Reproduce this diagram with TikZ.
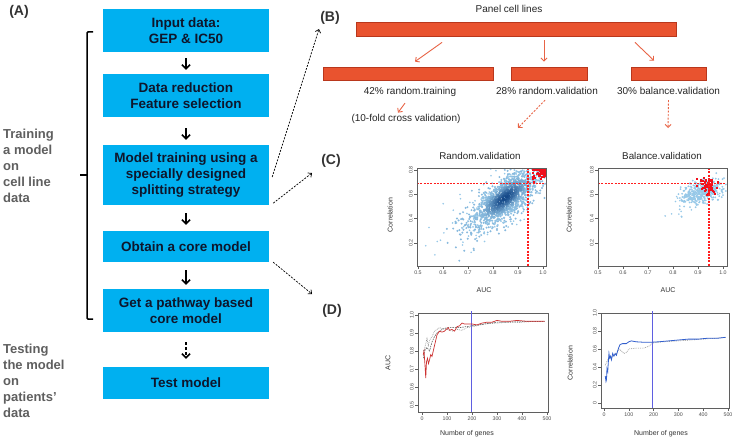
\documentclass[tikz,border=0pt]{standalone}
\usepackage{fontspec}
\setmainfont{Liberation Sans}
\usetikzlibrary{arrows.meta,positioning,calc}

\definecolor{boxblue}{RGB}{0,176,240}
\definecolor{boxtext}{RGB}{14,22,44}
\definecolor{sidegray}{RGB}{95,95,95}
\definecolor{barfill}{RGB}{233,83,47}
\definecolor{barline}{RGB}{185,55,28}
\definecolor{splitcol}{RGB}{232,100,70}
\definecolor{ptlight}{RGB}{150,200,232}
\definecolor{ptdark}{RGB}{12,64,130}
\definecolor{ptred}{RGB}{240,16,28}
\definecolor{axisgray}{RGB}{95,95,95}
\definecolor{cutred}{RGB}{255,30,30}
\definecolor{genesblue}{RGB}{95,95,225}
\definecolor{aucred}{RGB}{205,50,50}
\definecolor{corblue}{RGB}{50,95,205}

\begin{document}
\begin{tikzpicture}[x=1pt,y=-1pt,
  flowbox/.style={fill=boxblue,text=boxtext,font=\bfseries\fontsize{13.5}{16}\selectfont,
    align=center,minimum width=166pt,inner sep=0pt},
  sidetext/.style={text=sidegray,font=\bfseries\fontsize{13}{16}\selectfont,align=left,inner sep=0pt},
  panel/.style={font=\bfseries\fontsize{14}{16}\selectfont,text=black!80},
  flowarrow/.style={-{Straight Barb[length=4pt,width=8pt]},line width=1.6pt},
  linkarrow/.style={-{Straight Barb[length=3pt,width=5.5pt]},line width=0.7pt,dash pattern=on 2pt off 1.3pt},
  splitbar/.style={draw=barline,fill=barfill,line width=0.8pt,inner sep=0pt,minimum height=13pt},
  splitarrow/.style={-{Straight Barb[length=3pt,width=6pt]},draw=splitcol,line width=0.9pt},
  splitlabel/.style={font=\fontsize{10}{12}\selectfont,inner sep=0pt,text=black!85},
  plotframe/.style={draw=axisgray,line width=0.5pt},
  ticklbl/.style={font=\fontsize{5.3}{6}\selectfont,text=black!70,inner sep=1.2pt},
  axislbl/.style={font=\fontsize{7}{8}\selectfont,text=black!80},
  plottitle/.style={font=\fontsize{9.8}{11}\selectfont,text=black!85},
  cutline/.style={draw=cutred,line width=1.2pt,dash pattern=on 2pt off 1.3pt}]

\path[fill=white,use as bounding box] (0,0) rectangle (738,441);

% (A) flow of the work
\node[panel] (labA) at (19,12) {(A)};
\node[flowbox,minimum height=43pt] (input) at (186,30.5) {Input data:\\GEP \& IC50};
\node[flowbox,minimum height=43pt] (reduce) at (186,95.5) {Data reduction\\Feature selection};
\node[flowbox,minimum height=60pt] (train) at (186,175) {Model training using a\\specially designed\\splitting strategy};
\node[flowbox,minimum height=31pt] (core) at (186,246.5) {Obtain a core model};
\node[flowbox,minimum height=43pt] (pathway) at (186,310.5) {Get a pathway based\\core model};
\node[flowbox,minimum height=32pt] (test) at (186,383) {Test model};

\draw[flowarrow,shorten <=6pt,shorten >=4pt] (input) -- (reduce);
\draw[flowarrow,shorten <=11pt,shorten >=5pt] (reduce) -- (train);
\draw[flowarrow,shorten <=8pt,shorten >=6pt] (train) -- (core);
\draw[flowarrow,shorten <=8pt,shorten >=4pt] (core) -- (pathway);
\draw[flowarrow,shorten <=10pt,shorten >=8pt,dash pattern=on 3pt off 2pt] (pathway) -- (test);

% bracket and side texts
\draw[line width=1.5pt,rounded corners=1pt] (93,32) -- (87,32) -- (87,319) -- (93,319);
\draw[line width=1.5pt] (87,175) -- (80,175);
\node[sidetext,anchor=north west] (trainside) at (3,129) {Training\\a model\\on\\cell line\\data};
\node[sidetext,anchor=north west] (testside) at (3,344) {Testing\\the model\\on\\patients'\\data};

% links to the right panels
\coordinate (toB) at (319,29);
\coordinate (toC) at (312,173);
\coordinate (toD) at (312,294);
\draw[linkarrow] ($(train.east)+(3,2)$) -- (toB);
\draw[linkarrow] ($(train.south east)+(4,-2)$) -- (toC);
\draw[linkarrow] ($(core.south east)+(4,0)$) -- (toD);

% (B) splitting
\node[panel] (labB) at (330,18) {(B)};
\node[splitlabel] (paneltext) at (509,9) {Panel cell lines};
\node[splitbar,minimum width=320pt,minimum height=14pt] (allbar) at (516,29) {};
\node[splitbar,minimum width=170pt] (trainbar) at (408,73.5) {};
\node[splitbar,minimum width=76pt] (randbar) at (549,73.5) {};
\node[splitbar,minimum width=75pt] (balbar) at (668.5,73.5) {};
\node[splitlabel,below=7pt of trainbar,xshift=2pt] (trainlbl) {42\% random.training};
\node[splitlabel,below=7pt of randbar,xshift=-2pt] (randlbl) {28\% random.validation};
\node[splitlabel,below=7pt of balbar] (ballbl) {30\% balance.validation};
\node[splitlabel] (cvtext) at (406,118.5) {(10-fold cross validation)};

\draw[splitarrow] ($(allbar.south)+(-74,6)$) -- ($(trainbar.north)+(7,-5)$);
\draw[splitarrow] ($(allbar.south)+(28,4)$) -- ($(randbar.north)+(-5,-5)$);
\draw[splitarrow] ($(allbar.south)+(119,6)$) -- ($(balbar.north)+(-14.5,-6)$);
\draw[splitarrow] ($(trainlbl.south)+(-5,6)$) -- ($(cvtext.north)+(-8,-1)$);
\coordinate (toRand) at (518,128);
\coordinate (toBal) at (668,128);
\draw[splitarrow,dash pattern=on 2pt off 1.5pt] ($(randlbl.south)+(-2,5)$) -- (toRand);
\draw[splitarrow,dash pattern=on 2pt off 1.5pt] ($(ballbl.south)+(0,5)$) -- (toBal);

% (C) scatter plots
\node[panel] (labC) at (331,161) {(C)};
\node[plottitle] (randtitle) at (480,156) {Random.validation};
\node[plottitle] (baltitle) at (662,156) {Balance.validation};

\begin{scope}
  \clip (417,168) rectangle (546,266);
  \pgfmathsetseed{4211}
  \foreach \i in {1,...,140}{
    \pgfmathsetmacro{\ra}{rand+rand+rand}
    \pgfmathsetmacro{\rb}{rand+rand+rand}
    \pgfmathsetmacro{\px}{490+34*\ra*cos(39)+13*\rb*sin(39)}
    \pgfmathsetmacro{\py}{210-34*\ra*sin(39)+13*\rb*cos(39)}
    \fill[ptlight] (\px,\py) circle (0.9pt);
  }
  \foreach \i in {1,...,700}{
    \pgfmathsetmacro{\ra}{rand+rand+rand}
    \pgfmathsetmacro{\rb}{rand+rand+rand}
    \pgfmathsetmacro{\px}{503+26*\ra*cos(39)+10*\rb*sin(39)}
    \pgfmathsetmacro{\py}{200-26*\ra*sin(39)+10*\rb*cos(39)}
    \fill[ptlight!90!ptdark] (\px,\py) circle (1.1pt);
  }
  \foreach \i in {1,...,900}{
    \pgfmathsetmacro{\ra}{rand+rand+rand}
    \pgfmathsetmacro{\rb}{rand+rand+rand}
    \pgfmathsetmacro{\px}{505+16*\ra*cos(39)+6.5*\rb*sin(39)}
    \pgfmathsetmacro{\py}{198-16*\ra*sin(39)+6.5*\rb*cos(39)}
    \pgfmathtruncatemacro{\shade}{95*exp(-(\ra*\ra+\rb*\rb)/1.6)}
    \fill[ptdark!\shade!ptlight] (\px,\py) circle (1.1pt);
  }
  \foreach \i in {1,...,55}{
    \pgfmathsetmacro{\px}{545-17*rnd*rnd}
    \pgfmathsetmacro{\py}{169.5+13*rnd*rnd}
    \fill[ptred] (\px-1,\py-1) rectangle (\px+1,\py+1);
  }
  \draw[cutline] (417,183.3) -- (546,183.3);
  \draw[cutline] (528,168) -- (528,266);
\end{scope}
\begin{scope}
  \clip (598,168) rectangle (727,266);
  \foreach \i in {1,...,40}{
    \pgfmathsetmacro{\ra}{rand+rand+rand}
    \pgfmathsetmacro{\rb}{rand+rand+rand}
    \pgfmathsetmacro{\px}{688+14*\ra*cos(30)+5*\rb*sin(30)}
    \pgfmathsetmacro{\py}{200-14*\ra*sin(30)+5*\rb*cos(30)}
    \fill[ptlight] (\px,\py) circle (0.9pt);
  }
  \foreach \i in {1,...,380}{
    \pgfmathsetmacro{\ra}{rand+rand+rand}
    \pgfmathsetmacro{\rb}{rand+rand+rand}
    \pgfmathsetmacro{\px}{703+10*\ra*cos(20)+5.5*\rb*sin(20)}
    \pgfmathsetmacro{\py}{191-10*\ra*sin(20)+5.5*\rb*cos(20)}
    \fill[ptlight] (\px,\py) circle (1pt);
  }
  \foreach \i in {1,...,70}{
    \pgfmathsetmacro{\px}{707+4.5*(rand+rand+rand)}
    \pgfmathsetmacro{\py}{186+3.5*(rand+rand+rand)}
    \fill[ptred] (\px-1,\py-1) rectangle (\px+1,\py+1);
  }
  \draw[cutline] (598,183.3) -- (727,183.3);
  \draw[cutline] (709,168) -- (709,266);
\end{scope}

\draw[plotframe] (417,168) rectangle (546,266);
\draw[plotframe] (598,168) rectangle (727,266);

\foreach \u/\lbl in {0/0.5,25/0.6,50/0.7,75/0.8,100/0.9,125/1.0}{
  \draw[plotframe] (418+\u,266) -- (418+\u,269) node[ticklbl,below] {\lbl};
  \draw[plotframe] (598+\u,266) -- (598+\u,269) node[ticklbl,below] {\lbl};
}
\foreach \v/\lbl in {243/0.2,218.6/0.4,194.3/0.6,170/0.8}{
  \draw[plotframe] (417,\v) -- (414,\v) node[ticklbl,rotate=90,anchor=south] {\lbl};
  \draw[plotframe] (598,\v) -- (595,\v) node[ticklbl,rotate=90,anchor=south] {\lbl};
}
\node[axislbl] (auclblA) at (484,290) {AUC};
\node[axislbl] (auclblB) at (668,290) {AUC};
\node[axislbl,rotate=90] (corlblA) at (390,215) {Correlation};
\node[axislbl,rotate=90] (corlblB) at (569,215) {Correlation};

% (D) number of genes
\node[panel] (labD) at (332,311) {(D)};
\draw[plotframe] (418,313) rectangle (548,412);
\draw[plotframe] (601,313) rectangle (729,408);
\foreach \n in {0,100,...,500}{
  \draw[plotframe] (422+0.25*\n,412) -- (422+0.25*\n,415) node[ticklbl,below] {\n};
  \draw[plotframe] (604+0.248*\n,408) -- (604+0.248*\n,411) node[ticklbl,below] {\n};
}
\foreach \v/\lbl in {315/1.0,333/0.9,351/0.8,369/0.7,387/0.6,405/0.5}{
  \draw[plotframe] (418,\v) -- (415,\v) node[ticklbl,rotate=90,anchor=south] {\lbl};
}
\foreach \v/\lbl in {313/1.0,331/0.8,349/0.6,367/0.4,385/0.2,403/0}{
  \draw[plotframe] (601,\v) -- (598,\v) node[ticklbl,rotate=90,anchor=south] {\lbl};
}
\draw[genesblue,line width=1pt] (471,311) -- (471,412);
\draw[genesblue,line width=1pt] (652,311) -- (652,408);

\begin{scope}[shift={(422,495)},x=0.25pt,y=180pt]
  \draw[black!45,line width=0.6pt,dash pattern=on 0.8pt off 1pt] plot coordinates {(5,0.80) (10,0.81) (15,0.84) (20,0.87) (25,0.83) (30,0.86) (40,0.88) (50,0.91) (60,0.92) (70,0.93) (80,0.925) (100,0.92) (120,0.91) (140,0.92) (160,0.915) (180,0.93) (200,0.935) (220,0.94) (250,0.95) (300,0.955) (350,0.96) (400,0.96) (450,0.965) (490,0.965)};
  \draw[black!75,line width=0.5pt,dash pattern=on 1.5pt off 1pt] plot coordinates {(5,0.76) (10,0.80) (20,0.82) (30,0.80) (40,0.85) (50,0.88) (60,0.90) (80,0.92) (100,0.93) (150,0.93) (200,0.94) (300,0.96) (490,0.965)};
  \draw[aucred,line width=0.7pt] plot coordinates {(5,0.78) (8,0.80) (12,0.72) (15,0.65) (18,0.74) (22,0.76) (26,0.73) (30,0.75) (35,0.78) (40,0.77) (45,0.80) (50,0.83) (55,0.86) (60,0.89) (65,0.90) (70,0.91) (80,0.905) (90,0.91) (100,0.925) (105,0.93) (110,0.915) (120,0.92) (130,0.91) (140,0.935) (150,0.94) (160,0.955) (170,0.95) (180,0.95) (200,0.95) (220,0.945) (240,0.955) (260,0.96) (280,0.96) (300,0.97) (320,0.965) (350,0.965) (380,0.97) (420,0.965) (460,0.965) (490,0.965)};
\end{scope}
\begin{scope}[shift={(604,403)},x=0.248pt,y=90pt]
  \draw[black!45,line width=0.6pt,dash pattern=on 0.8pt off 1pt] plot coordinates {(5,0.42) (10,0.45) (15,0.48) (25,0.50) (35,0.52) (50,0.55) (60,0.60) (70,0.58) (80,0.55) (90,0.56) (100,0.60) (130,0.61) (160,0.61) (180,0.63) (200,0.67) (240,0.68) (300,0.69) (350,0.70) (400,0.71) (450,0.72) (490,0.73)};
  \draw[corblue,line width=0.8pt] plot coordinates {(5,0.30) (8,0.24) (10,0.26) (12,0.38) (15,0.35) (18,0.48) (20,0.55) (23,0.50) (26,0.52) (30,0.48) (35,0.55) (40,0.52) (45,0.55) (50,0.53) (55,0.58) (60,0.62) (65,0.65) (75,0.66) (90,0.66) (100,0.68) (110,0.69) (130,0.68) (160,0.675) (190,0.675) (220,0.68) (260,0.69) (300,0.70) (340,0.71) (380,0.71) (420,0.72) (460,0.72) (490,0.73)};
\end{scope}
\node[axislbl,rotate=90] (auclblD) at (388,363) {AUC};
\node[axislbl,rotate=90] (corlblD) at (570,363) {Correlation};
\node[axislbl] (geneslblA) at (467,434) {Number of genes};
\node[axislbl] (geneslblB) at (661,434) {Number of genes};
\end{tikzpicture}
\end{document}
